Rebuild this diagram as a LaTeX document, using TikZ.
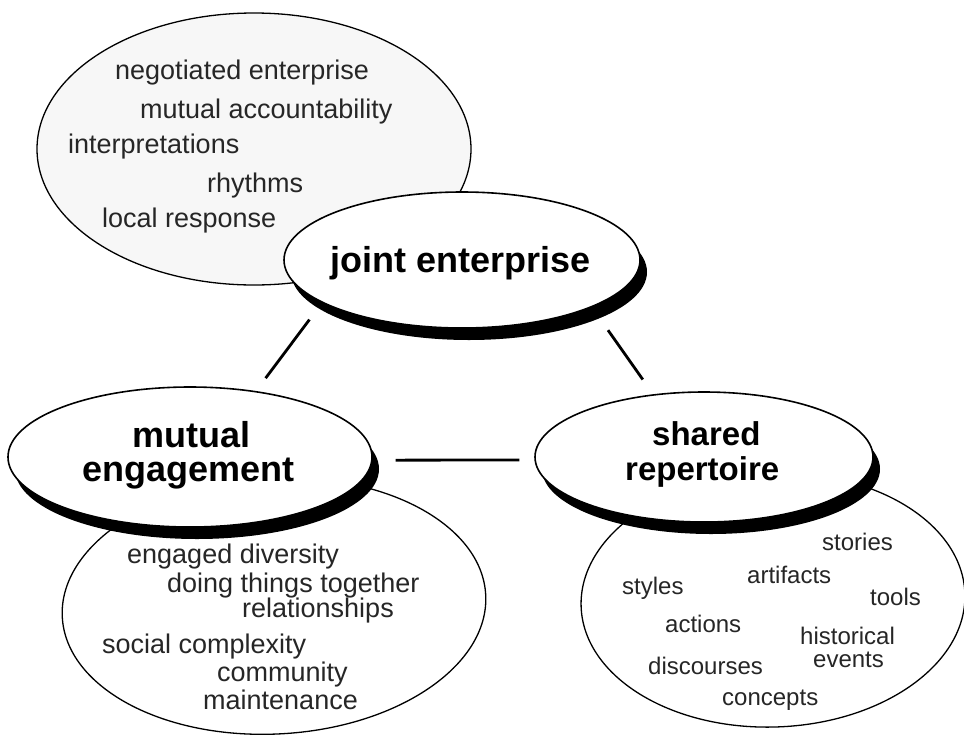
\documentclass[tikz,border=0pt]{standalone}
\usepackage{fontspec}
\setmainfont{Liberation Sans}
\usetikzlibrary{shapes.geometric,shadows}

\begin{document}
\begin{tikzpicture}[x=1pt,y=-1pt,
  mainoval/.style={ellipse, draw=black, line width=1.6pt, fill=white, inner sep=0pt,
    drop shadow={shadow xshift=7pt, shadow yshift=-12pt, fill=black, opacity=1}},
  detailoval/.style={ellipse, draw=black, line width=1.3pt, inner sep=0pt},
  term/.style={anchor=base west, inner sep=0pt, text=black!85, font=\fontsize{27}{27}\selectfont},
  item/.style={anchor=base west, inner sep=0pt, text=black!85, font=\fontsize{24}{24}\selectfont},
  title/.style={anchor=base west, inner sep=0pt, font=\bfseries\fontsize{36}{36}\selectfont},
  link/.style={line width=2.8pt}
]
\useasboundingbox (0,0) rectangle (964,737);

% detail ovals behind the three main ovals
\node[detailoval, fill=black!3, minimum width=434pt, minimum height=272pt] (jedetail) at (254,149) {};
\node[detailoval, fill=white, minimum width=424pt, minimum height=256pt, rotate=3] (medetail) at (274,606) {};
\node[detailoval, fill=white, minimum width=384pt, minimum height=254pt, rotate=2] (sedetail) at (773,600) {};

% joint enterprise details
\node[term] (t1) at (115,79)  {negotiated enterprise};
\node[term] (t2) at (140,118) {mutual accountability};
\node[term] (t3) at (68,153)  {interpretations};
\node[term] (t4) at (207,192) {rhythms};
\node[term] (t5) at (102,227) {local response};

% mutual engagement details
\node[term] (m1) at (127,563) {engaged diversity};
\node[term] (m2) at (167,592) {doing things together};
\node[term] (m3) at (242,617) {relationships};
\node[term] (m4) at (102,653) {social complexity};
\node[term] (m5) at (217,681) {community};
\node[term] (m6) at (203,709) {maintenance};

% shared repertoire details
\node[item] (s1) at (822,550) {stories};
\node[item] (s2) at (747,583) {artifacts};
\node[item] (s3) at (622,594) {styles};
\node[item] (s4) at (870,605) {tools};
\node[item] (s5) at (665,632) {actions};
\node[item] (s6) at (800,644) {historical};
\node[item] (s7) at (813,667) {events};
\node[item] (s8) at (648,674) {discourses};
\node[item] (s9) at (722,705) {concepts};

% the three main ovals
\node[mainoval, minimum width=356pt, minimum height=136pt] (je) at (462,260) {};
\node[mainoval, minimum width=364pt, minimum height=140pt] (me) at (190,457) {};
\node[mainoval, minimum width=338pt, minimum height=130pt] (se) at (704,457) {};

\node[title] (jetext) at (330,272) {joint enterprise};
\node[title] (metext1) at (132,447) {mutual};
\node[title] (metext2) at (82,481) {engagement};
\node[title, font=\bfseries\fontsize{33}{33}\selectfont] (setext1) at (652,445) {shared};
\node[title, font=\bfseries\fontsize{33}{33}\selectfont] (setext2) at (625,480) {repertoire};

% connectors between the main ovals
\draw[link, shorten <=21pt, shorten >=16pt] (je.197) -- (me.45);
\draw[link, shorten <=28pt, shorten >=18pt] (je.340) -- (se.129);
\draw[link, shorten <=23pt, shorten >=15pt] (me.359) -- (se.181);
\end{tikzpicture}
\end{document}
